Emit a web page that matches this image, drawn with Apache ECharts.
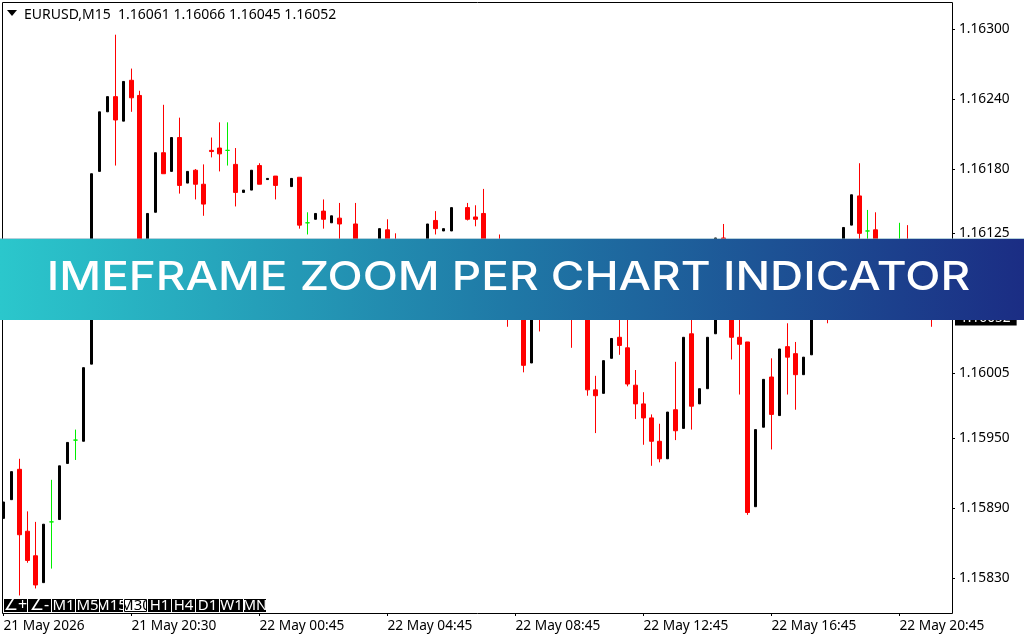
<!DOCTYPE html>
<html>
<head>
<meta charset="utf-8">
<title>EURUSD,M15</title>
<script src="https://cdn.jsdelivr.net/npm/echarts@6/dist/echarts.min.js"></script>
<style>
	html, body { margin: 0; padding: 0; background: #fff; }
	#chart { width: 1024px; height: 640px; }
</style>
</head>
<body>
<div id="chart"></div>
<script>
var chartName = 'EURUSD,M15';
var bannerText = 'IMEFRAME ZOOM PER CHART INDICATOR';
var priceTicks = [1.16300, 1.16240, 1.16180, 1.16125, 1.16065, 1.16005, 1.15950, 1.15890, 1.15830];
var timeTicks = ['21 May 2026', '21 May 20:30', '22 May 00:45', '22 May 04:45', '22 May 08:45', '22 May 12:45', '22 May 16:45', '22 May 20:45'];
var timeTickBars = [0, 16, 32, 48, 64, 80, 96, 112];
var periodButtons = ['∠+', '∠-', 'M1', 'M5', 'M15', 'M30', 'H1', 'H4', 'D1', 'W1', 'MN'];
var activePeriod = 'M30';

// bars, null = nothing drawn. the ones behind the banner are guessed
var opens = [
	1.15881, 1.15897, 1.15923, 1.15870, 1.15849, 1.15826, 1.15878, 1.15880, 1.15928, 1.15948,
	1.15947, 1.16013, 1.16178, 1.16229, 1.16242, 1.16221, 1.16256, 1.16243, 1.16107, 1.16143,
	1.16194, 1.16178, 1.16207, 1.16168, 1.16179, 1.16167, 1.16196, 1.16198, 1.16196, 1.16184,
	1.16160, 1.16162, 1.16183, 1.16171, 1.16174, null, 1.16165, 1.16173, 1.16134, 1.16137,
	1.16144, 1.16134, 1.16138, 1.16115, 1.16133, 1.16104, 1.16109, 1.16094, 1.16128, 1.16100,
	1.16089, 1.16107, 1.16094, 1.16107, 1.16136, 1.16127, 1.16127, null, 1.16147, 1.16139,
	1.16142, 1.16109, 1.16115, 1.16094, 1.16068, 1.16077, 1.16014, 1.16081, 1.16068, 1.16085,
	1.16072, 1.16072, 1.16059, 1.16068, 1.15991, 1.15988, 1.16018, 1.16036, 1.16027, 1.15995,
	1.15979, 1.15967, 1.15947, 1.15932, 1.15974, 1.15958, 1.16039, 1.15979, 1.15992, 1.16039,
	1.16121, 1.16085, 1.16036, 1.16032, 1.15891, 1.15959, 1.16002, 1.15969, 1.16028, 1.16022,
	1.16004, 1.16021, 1.16077, 1.16102, 1.16094, 1.16102, 1.16132, 1.16157, 1.16127, 1.16128,
	1.16089, 1.16107, 1.16102, 1.16102, 1.16085, 1.16061, 1.16061
];
var closes = [
	1.15895, 1.15921, 1.15867, 1.15845, 1.15824, 1.15876, 1.15878, 1.15926, 1.15946, 1.15948,
	1.16010, 1.16176, 1.16229, 1.16242, 1.16222, 1.16255, 1.16241, 1.16107, 1.16142, 1.16194,
	1.16176, 1.16207, 1.16166, 1.16178, 1.16167, 1.16150, 1.16195, 1.16193, 1.16196, 1.16160,
	1.16162, 1.16179, 1.16167, 1.16172, 1.16166, null, 1.16172, 1.16132, 1.16134, 1.16142,
	1.16137, 1.16140, 1.16133, 1.16100, 1.16100, 1.16111, 1.16094, 1.16129, 1.16100, 1.16089,
	1.16107, 1.16089, 1.16111, 1.16133, 1.16129, 1.16129, 1.16147, null, 1.16137, 1.16137,
	1.16111, 1.16115, 1.16094, 1.16068, 1.16089, 1.16012, 1.16077, 1.16068, 1.16085, 1.16072,
	1.16085, 1.16059, 1.16072, 1.15991, 1.15986, 1.16016, 1.16035, 1.16029, 1.15996, 1.15979,
	1.15967, 1.15947, 1.15932, 1.15972, 1.15956, 1.16036, 1.15977, 1.15992, 1.16036, 1.16121,
	1.16068, 1.16036, 1.16030, 1.15886, 1.15957, 1.16000, 1.15970, 1.16026, 1.16019, 1.16004,
	1.16019, 1.16077, 1.16102, 1.16085, 1.16111, 1.16130, 1.16158, 1.16125, 1.16127, 1.16089,
	1.16107, 1.16115, 1.16102, 1.16085, 1.16068, 1.16068, 1.16052
];
var lows = [
	1.15881, 1.15897, 1.15815, 1.15843, 1.15821, 1.15826, 1.15838, 1.15880, 1.15928, 1.15931,
	1.15947, 1.16013, 1.16178, 1.16229, 1.16183, 1.16221, 1.16229, 1.16104, 1.16107, 1.16143,
	1.16176, 1.16178, 1.16159, 1.16168, 1.16154, 1.16140, 1.16190, 1.16178, 1.16183, 1.16148,
	1.16160, 1.16162, 1.16167, 1.16171, 1.16154, null, 1.16165, 1.16129, 1.16124, 1.16137,
	1.16129, 1.16134, 1.16115, 1.16097, 1.16098, 1.16104, 1.16090, 1.16094, 1.16094, 1.16085,
	1.16089, 1.16085, 1.16094, 1.16107, 1.16124, 1.16127, 1.16127, null, 1.16136, 1.16131,
	1.16107, 1.16109, 1.16085, 1.16045, 1.16068, 1.16006, 1.16014, 1.16041, 1.16068, 1.16065,
	1.16072, 1.16027, 1.16059, 1.15986, 1.15954, 1.15988, 1.16018, 1.16021, 1.15994, 1.15966,
	1.15944, 1.15926, 1.15929, 1.15932, 1.15948, 1.15958, 1.15957, 1.15979, 1.15992, 1.16039,
	1.16059, 1.16017, 1.15987, 1.15884, 1.15891, 1.15959, 1.15940, 1.15969, 1.15987, 1.15974,
	1.16004, 1.16021, 1.16077, 1.16048, 1.16094, 1.16102, 1.16132, 1.16102, 1.16098, 1.16081,
	1.16089, 1.16107, 1.16077, 1.16077, 1.16062, 1.16061, 1.16045
];
var highs = [
	1.15895, 1.15921, 1.15932, 1.15887, 1.15878, 1.15876, 1.15914, 1.15926, 1.15946, 1.15957,
	1.16010, 1.16176, 1.16229, 1.16242, 1.16295, 1.16255, 1.16266, 1.16247, 1.16142, 1.16194,
	1.16235, 1.16207, 1.16224, 1.16178, 1.16180, 1.16184, 1.16207, 1.16220, 1.16220, 1.16198,
	1.16162, 1.16179, 1.16185, 1.16172, 1.16174, null, 1.16172, 1.16173, 1.16143, 1.16142,
	1.16154, 1.16140, 1.16151, 1.16118, 1.16151, 1.16111, 1.16109, 1.16129, 1.16137, 1.16125,
	1.16107, 1.16112, 1.16111, 1.16133, 1.16144, 1.16129, 1.16147, null, 1.16151, 1.16149,
	1.16163, 1.16115, 1.16124, 1.16111, 1.16089, 1.16092, 1.16077, 1.16102, 1.16085, 1.16092,
	1.16085, 1.16094, 1.16072, 1.16085, 1.16003, 1.16016, 1.16035, 1.16068, 1.16068, 1.16008,
	1.15989, 1.15970, 1.15962, 1.15972, 1.16015, 1.16036, 1.16068, 1.15992, 1.16036, 1.16121,
	1.16133, 1.16100, 1.16068, 1.16032, 1.15957, 1.16000, 1.16018, 1.16026, 1.16048, 1.16032,
	1.16019, 1.16077, 1.16102, 1.16115, 1.16111, 1.16130, 1.16158, 1.16185, 1.16145, 1.16143,
	1.16107, 1.16115, 1.16134, 1.16132, 1.16094, 1.16068, 1.16066
];

// one candlestick series per look, they differ in width so can't share a series
function pickBars(kind) {
	var out = [];
	for (var i = 0; i < opens.length; i++) {
		if (opens[i] == null) {
			continue;
		}
		var k = opens[i] === closes[i] ? 'doji' : (closes[i] > opens[i] ? 'bull' : 'bear');
		if (k === kind) {
			out.push([i, opens[i], closes[i], lows[i], highs[i]]);
		}
	}
	return out;
}

function candleSeries(name, kind, width, color, extra) {
	var s = {
		name: name,
		type: 'candlestick',
		barWidth: width,
		clip: false,
		data: pickBars(kind),
		itemStyle: { color: color, color0: color, borderColor: color, borderColor0: color, borderWidth: 1 },
		silent: true
	};
	if (extra) {
		s.markLine = extra;
	}
	return s;
}

// the MT4 period buttons, labels get cut off at the button edge so each one is clipped
function renderButton(params, api) {
	var i = params.dataIndex;
	var label = periodButtons[i];
	var active = label === activePeriod;
	var x = 4 + i * 24;
	var w = i === periodButtons.length - 1 ? 22 : 23;
	var children = [
		{ type: 'rect', shape: { x: x, y: 599, width: w, height: 13 }, style: { fill: active ? '#fff' : '#000' } },
		{
			type: 'text',
			x: x + w / 2,
			y: 605.5,
			style: {
				text: label,
				fill: active ? '#000' : '#fff',
				font: (i < 2 ? '16px' : '15px') + ' "Noto Sans", "DejaVu Sans"',
				align: 'center',
				verticalAlign: 'middle'
			}
		}
	];
	if (active) {
		children.push({ type: 'rect', shape: { x: x + 0.5, y: 599.5, width: w - 1, height: 12 }, style: { fill: 'none', stroke: '#000', lineWidth: 1 } });
	}
	return {
		type: 'group',
		clipPath: { type: 'rect', shape: { x: x, y: 599, width: w, height: 13 } },
		children: children
	};
}

function overlayElements() {
	var last = opens.length - 1;
	var header = chartName + '  ' + [opens[last], highs[last], lows[last], closes[last]].map(function (v) { return v.toFixed(5); }).join(' ');
	return [
		{ type: 'rect', z: 95, shape: { x: 2.5, y: 2.5, width: 950, height: 611 }, style: { fill: 'none', stroke: '#000', lineWidth: 1 } },
		{ type: 'polygon', z: 100, shape: { points: [[7, 10], [17, 10], [12, 16]] }, style: { fill: '#000' } },
		{ type: 'text', z: 100, x: 24, y: 15, style: { text: header, fill: '#000', font: '14px "Noto Sans"', verticalAlign: 'middle' } },
		{ type: 'rect', z: 120, shape: { x: 0, y: 238, width: 1024, height: 1 }, style: { fill: 'rgba(120,170,190,0.55)' } },
		{
			type: 'rect', z: 120, shape: { x: 0, y: 239, width: 1024, height: 81 },
			style: {
				fill: new echarts.graphic.LinearGradient(0, 0, 1, 0, [
					{ offset: 0, color: '#2BC7CC' },
					{ offset: 0.5, color: '#1F78A6' },
					{ offset: 1, color: '#1B2D84' }
				])
			}
		},
		{
			type: 'text', z: 121, x: 508.5, y: 278, scaleX: 1.146,
			style: { text: bannerText, fill: '#fff', font: '500 40px Inter', align: 'center', verticalAlign: 'middle' }
		}
	];
}

var lastPriceLine = {
	silent: true,
	symbol: 'none',
	animation: false,
	precision: 5,
	lineStyle: { width: 0, color: 'transparent', opacity: 1 },
	label: {
		position: 'end',
		distance: 3,
		opacity: 1,
		backgroundColor: '#000',
		color: '#fff',
		fontFamily: 'Noto Sans',
		fontSize: 13.7,
		lineHeight: 14,
		padding: [0, 6, 0, 5],
		formatter: function (p) { return p.value.toFixed(5); }
	},
	data: [{ yAxis: closes[opens.length - 1] }]
};

var option = {
	animation: false,
	backgroundColor: '#fff',
	grid: { left: 0, width: 952, top: 2, height: 611 },
	xAxis: {
		// value axis with 8px per bar, so the bars land on the half pixel like the terminal draws them
		type: 'value',
		min: -0.4375,
		max: 118.5625,
		axisLine: { show: false, onZero: false },
		axisTick: { show: true, length: 3, customValues: timeTickBars, lineStyle: { color: '#000' } },
		splitLine: { show: false },
		axisLabel: {
			show: true,
			align: 'left',
			margin: 6,
			color: '#000',
			fontFamily: 'Noto Sans',
			fontSize: 13.7,
			customValues: timeTickBars,
			formatter: function (v) { return timeTicks[timeTickBars.indexOf(v)]; }
		}
	},
	yAxis: {
		type: 'value',
		position: 'right',
		min: 1.158,
		max: 1.16323,
		axisLine: { show: false, onZero: false },
		splitLine: { show: false },
		axisTick: { show: true, length: 3, customValues: priceTicks, lineStyle: { color: '#000' } },
		axisLabel: {
			show: true,
			margin: 7,
			color: '#000',
			fontFamily: 'Noto Sans',
			fontSize: 13.7,
			customValues: priceTicks,
			formatter: function (v) { return v.toFixed(5); }
		}
	},
	series: [
		candleSeries('Bear', 'bear', 4, '#ff0000', lastPriceLine),
		candleSeries('Bull', 'bull', 2, '#000000'),
		candleSeries('Doji', 'doji', 4, '#00ee00'),
		{
			name: 'Periods',
			type: 'custom',
			coordinateSystem: 'none',
			silent: true,
			z: 110,
			data: periodButtons.map(function (p, i) { return [i]; }),
			renderItem: renderButton
		}
	],
	graphic: { elements: overlayElements() }
};

var chart = echarts.init(document.getElementById('chart'));
chart.setOption(option);
</script>
</body>
</html>
